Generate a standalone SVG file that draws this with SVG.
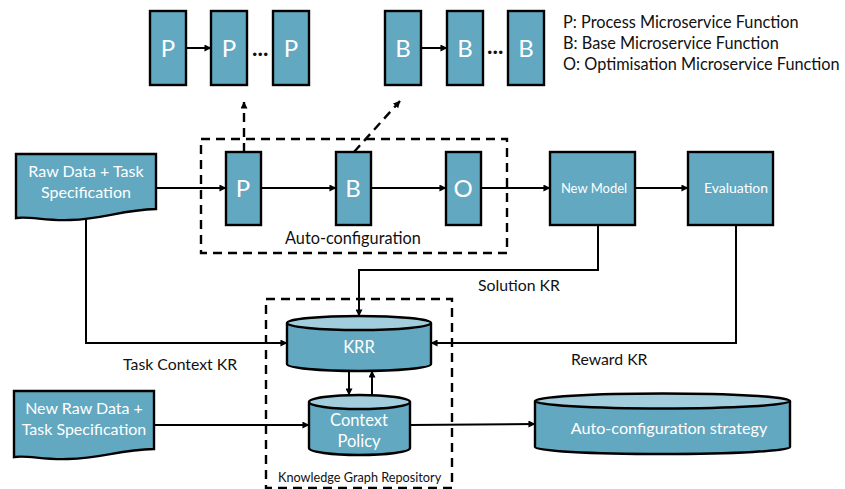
<svg xmlns="http://www.w3.org/2000/svg" width="845" height="489" viewBox="0 0 845 489">
<style>
.n{fill:#62a8c1;stroke:#000;stroke-width:2.4}
.c{fill:#a2cddc;stroke:#000;stroke-width:2.4}
.t{font-family:Lato,"Liberation Sans",sans-serif;fill:#fff;text-anchor:middle}
.k{font-family:Lato,"Liberation Sans",sans-serif;fill:#111;font-size:15.8px}
.g{font-size:16.3px}
.e{font-size:23px;font-weight:700}
.l{fill:none;stroke:#000;stroke-width:2}
.d{fill:none;stroke:#000;stroke-width:2.4;stroke-dasharray:9 6}
</style>
<defs>
<marker id="a" viewBox="0 0 8 8" refX="7.5" refY="4" markerWidth="7" markerHeight="7" markerUnits="userSpaceOnUse" orient="auto"><path d="M0 0L8 4L0 8z" fill="#000"/></marker>
</defs>
<g id="connectors">
<path class="l" marker-end="url(#a)" d="M186 48H211"/>
<path class="l" marker-end="url(#a)" d="M421 48H447"/>
<path class="d" marker-end="url(#a)" d="M244 152V102"/>
<path class="d" marker-end="url(#a)" d="M354 152L400 101"/>
<path class="l" marker-end="url(#a)" d="M156 188H226"/>
<path class="l" marker-end="url(#a)" d="M261 188H336"/>
<path class="l" marker-end="url(#a)" d="M371 188H446"/>
<path class="l" marker-end="url(#a)" d="M481 188H550"/>
<path class="l" marker-end="url(#a)" d="M635 188H688"/>
<path class="l" marker-end="url(#a)" d="M598 225V270H359V316"/>
<path class="l" marker-end="url(#a)" d="M86 218V343H287"/>
<path class="l" marker-end="url(#a)" d="M736 225V343H431"/>
<path class="l" marker-end="url(#a)" d="M349 371V395"/>
<path class="l" marker-end="url(#a)" d="M372 395V371"/>
<path class="l" marker-end="url(#a)" d="M154 425H309"/>
<path class="l" marker-end="url(#a)" d="M410 425L535 424"/>
</g>
<g id="autoconfig-frame"><path class="d" d="M201 139H507V253H201Z"/><text class="k g" x="285" y="244">Auto-configuration</text></g>
<g id="kg-frame"><path class="d" d="M266 299H452V488H266Z"/><text class="k" style="font-size:12.7px" x="278" y="482">Knowledge Graph Repository</text></g>
<g id="top-p1"><rect class="n" x="150" y="11" width="36" height="74"/><text class="t" x="168" y="57" font-size="24">P</text></g>
<g id="top-p2"><rect class="n" x="211" y="11" width="36" height="74"/><text class="t" x="229" y="57" font-size="24">P</text></g>
<g id="top-p3"><rect class="n" x="273" y="11" width="36" height="74"/><text class="t" x="291" y="57" font-size="24">P</text></g>
<g id="top-b1"><rect class="n" x="385" y="11" width="36" height="74"/><text class="t" x="403" y="57" font-size="24">B</text></g>
<g id="top-b2"><rect class="n" x="447" y="11" width="36" height="74"/><text class="t" x="465" y="57" font-size="24">B</text></g>
<g id="top-b3"><rect class="n" x="508" y="11" width="36" height="74"/><text class="t" x="526" y="57" font-size="24">B</text></g>
<text class="k e" x="252" y="56">...</text>
<text class="k e" x="487" y="54">...</text>
<g id="legend">
<text class="k g" x="563" y="28">P: Process Microservice Function</text>
<text class="k g" x="563" y="49">B: Base Microservice Function</text>
<text class="k g" x="563" y="70">O: Optimisation Microservice Function</text>
</g>
<g id="raw-data"><path class="n" d="M16 154H156V209C120 210 105 219 70 220C45 221 30 216 16 218Z"/><text class="t" x="86" y="177" font-size="16">Raw Data + Task</text><text class="t" x="86" y="198" font-size="16">Specification</text></g>
<g id="mid-p"><rect class="n" x="226" y="152" width="35" height="73"/><text class="t" x="243" y="197" font-size="24">P</text></g>
<g id="mid-b"><rect class="n" x="336" y="152" width="35" height="73"/><text class="t" x="353" y="197" font-size="24">B</text></g>
<g id="mid-o"><rect class="n" x="446" y="152" width="35" height="73"/><text class="t" x="463" y="197" font-size="24">O</text></g>
<g id="new-model"><rect class="n" x="550" y="152" width="85" height="73"/><text class="t" x="594" y="193" font-size="13">New Model</text></g>
<g id="evaluation"><rect class="n" x="688" y="152" width="85" height="73"/><text class="t" x="736" y="193" font-size="14">Evaluation</text></g>
<g id="krr"><path class="n" d="M287 323V364C287 368 320 371 359 371C398 371 431 368 431 364V323"/><ellipse class="c" cx="359" cy="323" rx="72" ry="7"/><text class="t" x="359" y="353" font-size="16.500">KRR</text></g>
<g id="context-policy"><path class="n" d="M309 402V448C309 452 332 455 359 455C387 455 410 452 410 448V402"/><ellipse class="c" cx="359.500" cy="402" rx="50.500" ry="7"/><text class="t" x="359" y="426" font-size="16.500">Context</text><text class="t" x="359" y="447" font-size="16.500">Policy</text></g>
<g id="new-raw"><path class="n" d="M14 391H154V449C118 450 103 458 68 459C43 460 28 455 14 457Z"/><text class="t" x="84" y="414" font-size="16">New Raw Data +</text><text class="t" x="84" y="435" font-size="16">Task Specification</text></g>
<g id="strategy"><path class="n" d="M535 401V447C535 451 590 454 662 454C734 454 790 451 790 447V401"/><ellipse class="c" cx="662.500" cy="401" rx="127.500" ry="7.500"/><text class="t" x="669" y="434" font-size="16.200">Auto-configuration strategy</text></g>
<g id="edge-labels">
<text class="k" x="478" y="291">Solution KR</text>
<text class="k" x="123" y="370">Task Context KR</text>
<text class="k" x="571" y="365">Reward KR</text>
</g>
</svg>
